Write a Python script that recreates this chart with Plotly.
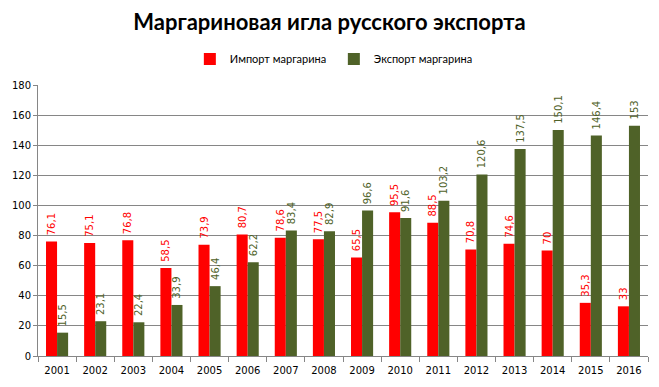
import plotly.graph_objects as go

years = ["2001", "2002", "2003", "2004", "2005", "2006", "2007", "2008",
         "2009", "2010", "2011", "2012", "2013", "2014", "2015", "2016"]
imports = [76.1, 75.1, 76.8, 58.5, 73.9, 80.7, 78.6, 77.5,
           65.5, 95.5, 88.5, 70.8, 74.6, 70, 35.3, 33]
exports = [15.5, 23.1, 22.4, 33.9, 46.4, 62.2, 83.4, 82.9,
           96.6, 91.6, 103.2, 120.6, 137.5, 150.1, 146.4, 153]
y_ticks = [0, 20, 40, 60, 80, 100, 120, 140, 160, 180]

def fmt(v):
    return "\u00a0" + ("%g" % v).replace(".", ",")

TITLE_FONT = "Lato, 'Open Sans', sans-serif"
SMALL_FONT = "'DejaVu Sans', Verdana, sans-serif"

fig = go.Figure()
fig.add_trace(go.Bar(
    x=years, y=imports, name="Импорт маргарина",
    marker=dict(color="#FF0000", line=dict(width=0)),
    text=[fmt(v) for v in imports], textposition="outside", textangle=-90,
    textfont=dict(color="#FF0000", size=10, family=SMALL_FONT),
    constraintext="none", cliponaxis=False,
))
fig.add_trace(go.Bar(
    x=years, y=exports, name="Экспорт маргарина",
    marker=dict(color="#4F6228", line=dict(width=0)),
    text=[fmt(v) for v in exports], textposition="outside", textangle=-90,
    textfont=dict(color="#4F6228", size=10, family=SMALL_FONT),
    constraintext="none", cliponaxis=False,
))

fig.update_layout(
    width=659, height=387,
    margin=dict(l=38, r=11, t=85, b=31, autoexpand=False),
    paper_bgcolor="white", plot_bgcolor="white",
    barmode="group", bargap=0.42, bargroupgap=0,
    font=dict(family=SMALL_FONT, color="#000000", size=10),
    title=dict(text="<b>Маргариновая игла русского экспорта</b>",
               x=0.5, xanchor="center", y=0.943, yanchor="middle",
               font=dict(size=22, family=TITLE_FONT, color="#000000")),
    legend=dict(orientation="h", x=0.485, xanchor="center", y=1.096, yanchor="middle",
                font=dict(size=11, family=TITLE_FONT, color="#000000"),
                itemwidth=30, entrywidth=99, entrywidthmode="pixels",
                traceorder="normal", itemclick=False),
    showlegend=True,
)
fig.update_xaxes(
    type="category", showgrid=False, showline=True, linecolor="#868686", linewidth=1,
    ticks="outside", tickson="boundaries", ticklen=5, tickcolor="#868686",
    ticklabelstandoff=5,
    tickfont=dict(size=10, family=SMALL_FONT),
)
fig.update_yaxes(
    range=[0, 180], tickvals=y_ticks, showgrid=True, gridcolor="#868686", gridwidth=1,
    showline=True, linecolor="#868686", linewidth=1, zeroline=False,
    ticks="outside", ticklen=4, tickcolor="#868686",
    tickfont=dict(size=10, family=SMALL_FONT),
)

fig.write_html("out.html", config={"displayModeBar": False},
               post_script="document.body.style.margin='0';")
